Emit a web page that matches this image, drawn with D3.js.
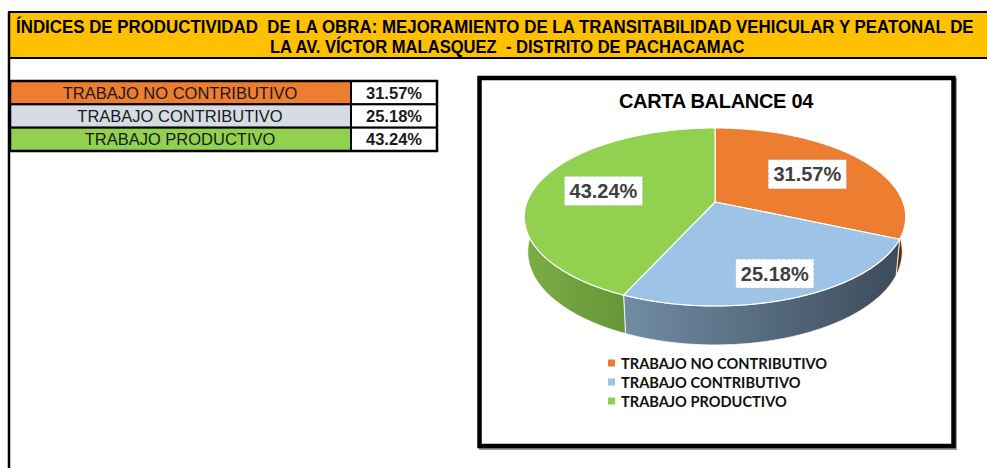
<!DOCTYPE html>
<html>
<head>
<meta charset="utf-8">
<script src="https://cdn.jsdelivr.net/npm/d3@7/dist/d3.min.js"></script>
<style>
  body { margin: 0; background: #fff; }
  svg { display: block; }
</style>
</head>
<body>
<div id="chart"></div>
<script>
// data
var categories = ["TRABAJO NO CONTRIBUTIVO", "TRABAJO CONTRIBUTIVO", "TRABAJO PRODUCTIVO"];
var values = [31.57, 25.18, 43.24];
var valueLabels = ["31.57%", "25.18%", "43.24%"];
var titleLines = ["ÍNDICES DE PRODUCTIVIDAD  DE LA OBRA: MEJORAMIENTO DE LA TRANSITABILIDAD VEHICULAR Y PEATONAL DE",
                  "LA AV. VÍCTOR MALASQUEZ  - DISTRITO DE PACHACAMAC"];
var chartTitle = "CARTA BALANCE 04";

// colours
var sliceColors = ["#ED7D31", "#9DC3E6", "#92D050"];
var rowColors = ["#ED7D31", "#D6DCE4", "#92D050"];

var width = 987;
var height = 468;

var svg = d3.select("#chart")
    .append("svg")
    .attr("width", width)
    .attr("height", height);

var defs = svg.append("defs");

// ---- header band ----
svg.append("rect")
    .attr("x", 9).attr("y", 12)
    .attr("width", 990).attr("height", 46)
    .attr("fill", "#FFC000")
    .attr("stroke", "#000")
    .attr("stroke-width", 2);

svg.append("line")
    .attr("x1", 9).attr("x2", 9)
    .attr("y1", 12).attr("y2", height)
    .attr("stroke", "#000")
    .attr("stroke-width", 2.5);

// narrow bold look: squeeze each line horizontally to the width it takes in the sheet
var headX = [16, 270];
var headLen = [958, 475];

svg.selectAll(".head")
    .data(titleLines)
    .enter()
    .append("text")
        .attr("class", "head")
        .style("white-space", "pre")
        .style("font-family", "'Liberation Sans Narrow', 'Arial Narrow', Arial, sans-serif")
        .style("font-weight", "bold")
        .style("font-size", "17.5px")
        .text(function (d) { return d; })
        .attr("transform", function (d, i) {
            var natural = this.getComputedTextLength();
            var k = headLen[i] / natural;
            return "translate(" + headX[i] + "," + (33 + i * 20) + ") scale(" + k + ",1)";
        });

// ---- small table ----
var rowY = d3.scaleBand()
    .domain(categories)
    .range([81, 151]);

var table = svg.append("g");

table.selectAll(".cat")
    .data(categories)
    .enter()
    .append("rect")
        .attr("x", 10)
        .attr("y", function (d) { return rowY(d); })
        .attr("width", 341)
        .attr("height", rowY.bandwidth())
        .attr("fill", function (d, i) { return rowColors[i]; })
        .attr("stroke", "#000")
        .attr("stroke-width", 2);

table.selectAll(".valcell")
    .data(categories)
    .enter()
    .append("rect")
        .attr("x", 351)
        .attr("y", function (d) { return rowY(d); })
        .attr("width", 86)
        .attr("height", rowY.bandwidth())
        .attr("fill", "#fff")
        .attr("stroke", "#000")
        .attr("stroke-width", 2);

table.append("rect")
    .attr("x", 10).attr("y", 81)
    .attr("width", 427).attr("height", 70)
    .attr("fill", "none")
    .attr("stroke", "#000")
    .attr("stroke-width", 2.5);

table.selectAll(".catText")
    .data(categories)
    .enter()
    .append("text")
        .attr("x", 180)
        .attr("y", function (d) { return rowY(d) + rowY.bandwidth() / 2 + 6; })
        .attr("text-anchor", "middle")
        .style("font-family", "Arial, 'Liberation Sans', sans-serif")
        .style("font-size", "16.5px")
        .attr("fill", "#1a1a1a")
        .text(function (d) { return d; });

table.selectAll(".valText")
    .data(valueLabels)
    .enter()
    .append("text")
        .attr("x", 394)
        .attr("y", function (d, i) { return rowY(categories[i]) + rowY.bandwidth() / 2 + 6; })
        .attr("text-anchor", "middle")
        .style("font-family", "Arial, 'Liberation Sans', sans-serif")
        .style("font-weight", "bold")
        .style("font-size", "16.5px")
        .attr("fill", "#1a1a1a")
        .text(function (d) { return d; });

// ---- chart box ----
svg.append("rect")
    .attr("x", 481).attr("y", 80)
    .attr("width", 474).attr("height", 368)
    .attr("fill", "none")
    .attr("stroke", "#999")
    .attr("stroke-width", 4);

svg.append("rect")
    .attr("x", 479.5).attr("y", 78)
    .attr("width", 474).attr("height", 368)
    .attr("fill", "#fff")
    .attr("stroke", "#000")
    .attr("stroke-width", 4.5);

svg.append("text")
    .attr("x", 716)
    .attr("y", 108)
    .attr("text-anchor", "middle")
    .style("font-family", "Arial, 'Liberation Sans', sans-serif")
    .style("font-weight", "bold")
    .style("font-size", "20px")
    .style("letter-spacing", "-0.3px")
    .text(chartTitle);

// ---- 3D pie ----
var cx = 715, cy = 202;
var camDist = 5.29, focal = 994.7;
var tiltSin = 0.46, tiltCos = 0.888;
var thickness = 0.21;

// project a point of the disc (angle from 12 o'clock, radius, depth below top)
function project(a, r, h) {
    var X = r * Math.sin(a);
    var Z = -r * Math.cos(a);
    var depth = camDist - Z * tiltCos + h * tiltSin;
    return [cx + focal * X / depth, cy + focal * (Z * tiltSin + h * tiltCos) / depth];
}

var pie = d3.pie()
    .value(function (d) { return d; })
    .sort(null);

var arcs = pie(values);
var line = d3.line();

function arcPoints(a0, a1, r, h) {
    var n = Math.max(2, Math.ceil(Math.abs(a1 - a0) / 0.01));
    return d3.range(n + 1).map(function (i) {
        return project(a0 + (a1 - a0) * i / n, r, h);
    });
}

// side shading goes dark to the right
arcs.forEach(function (d, i) {
    var g = defs.append("linearGradient")
        .attr("id", "side" + i)
        .attr("gradientUnits", "userSpaceOnUse")
        .attr("x1", cx - 190).attr("x2", cx + 190)
        .attr("y1", 0).attr("y2", 0);
    g.append("stop").attr("offset", 0).attr("stop-color", d3.color(sliceColors[i]).darker(0.5));
    g.append("stop").attr("offset", 1).attr("stop-color", d3.color(sliceColors[i]).darker(2.7));
});

var pieG = svg.append("g");

pieG.selectAll(".wall")
    .data(arcs)
    .enter()
    .append("path")
        .attr("d", function (d) {
            var top = arcPoints(d.startAngle, d.endAngle, 1, 0);
            var bottom = arcPoints(d.endAngle, d.startAngle, 1, thickness);
            return line(top.concat(bottom)) + "Z";
        })
        .attr("fill", function (d, i) { return "url(#side" + i + ")"; })
        .attr("stroke", "#fff")
        .attr("stroke-width", 1)
        .attr("stroke-opacity", 0.8);

pieG.selectAll(".top")
    .data(arcs)
    .enter()
    .append("path")
        .attr("d", function (d) {
            var pts = [project(0, 0, 0)].concat(arcPoints(d.startAngle, d.endAngle, 1, 0));
            return line(pts) + "Z";
        })
        .attr("fill", function (d, i) { return sliceColors[i]; })
        .attr("stroke", "#fff")
        .attr("stroke-width", 1.2)
        .attr("stroke-linejoin", "round");

// data labels: slices facing the viewer get their label pushed outwards
var labels = pieG.selectAll(".lab")
    .data(arcs)
    .enter()
    .append("g")
        .attr("transform", function (d) {
            var mid = (d.startAngle + d.endAngle) / 2;
            var r = 0.62 + 0.17 * Math.max(0, -Math.cos(mid));
            var p = project(mid, r, 0);
            return "translate(" + p[0] + "," + p[1] + ")";
        });

labels.append("rect")
    .attr("x", -39).attr("y", -14.5)
    .attr("width", 78).attr("height", 29)
    .attr("fill", "#fff")
    .attr("stroke", "#8fb4e0")
    .attr("stroke-width", 1)
    .attr("stroke-dasharray", "1,4");

labels.append("text")
    .attr("text-anchor", "middle")
    .attr("y", 7)
    .style("font-family", "Arial, 'Liberation Sans', sans-serif")
    .style("font-weight", "bold")
    .style("font-size", "20px")
    .attr("fill", "#404040")
    .text(function (d, i) { return valueLabels[i]; });

// ---- legend ----
var legY = d3.scalePoint()
    .domain(categories)
    .range([363, 401]);

var legend = svg.selectAll(".leg")
    .data(categories)
    .enter()
    .append("g")
        .attr("transform", function (d) { return "translate(608," + legY(d) + ")"; });

legend.append("rect")
    .attr("x", 0).attr("y", -3.5)
    .attr("width", 7).attr("height", 7)
    .attr("fill", function (d, i) { return sliceColors[i]; });

legend.append("text")
    .attr("x", 13)
    .attr("y", 5.5)
    .style("font-family", "Lato, 'Open Sans', sans-serif")
    .style("font-weight", "bold")
    .style("font-size", "14.6px")
    .attr("fill", "#111")
    .text(function (d) { return d; });
</script>
</body>
</html>
